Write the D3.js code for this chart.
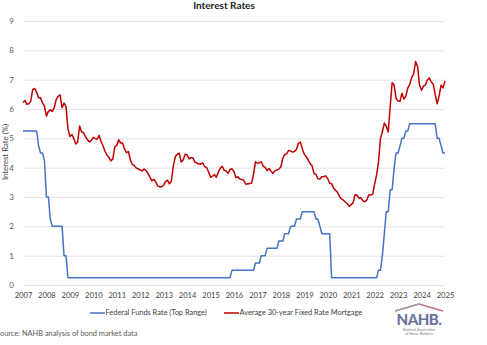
<!DOCTYPE html>
<html>
<head>
<meta charset="utf-8">
<script src="https://cdn.jsdelivr.net/npm/d3@7"></script>
<style>
  body { margin: 0; background: #fff; }
  svg { display: block; font-family: Lato, "Open Sans", sans-serif; }
</style>
</head>
<body>
<div id="chart"></div>
<script>
// monthly series, Jan 2007 - Jan 2025
const startMonth = new Date(2007, 0, 1);

const fedFunds = [
  // 2007
  5.25, 5.25, 5.25, 5.25, 5.25, 5.25, 5.25, 5.25, 4.75, 4.5, 4.5, 4.25,
  // 2008
  3.0, 3.0, 2.25, 2.0, 2.0, 2.0, 2.0, 2.0, 2.0, 1.0, 1.0, 0.25,
  // 2009 - 2014
  0.25, 0.25, 0.25, 0.25, 0.25, 0.25, 0.25, 0.25, 0.25, 0.25, 0.25, 0.25,
  0.25, 0.25, 0.25, 0.25, 0.25, 0.25, 0.25, 0.25, 0.25, 0.25, 0.25, 0.25,
  0.25, 0.25, 0.25, 0.25, 0.25, 0.25, 0.25, 0.25, 0.25, 0.25, 0.25, 0.25,
  0.25, 0.25, 0.25, 0.25, 0.25, 0.25, 0.25, 0.25, 0.25, 0.25, 0.25, 0.25,
  0.25, 0.25, 0.25, 0.25, 0.25, 0.25, 0.25, 0.25, 0.25, 0.25, 0.25, 0.25,
  0.25, 0.25, 0.25, 0.25, 0.25, 0.25, 0.25, 0.25, 0.25, 0.25, 0.25, 0.25,
  // 2015
  0.25, 0.25, 0.25, 0.25, 0.25, 0.25, 0.25, 0.25, 0.25, 0.25, 0.25, 0.5,
  // 2016
  0.5, 0.5, 0.5, 0.5, 0.5, 0.5, 0.5, 0.5, 0.5, 0.5, 0.5, 0.75,
  // 2017
  0.75, 0.75, 1.0, 1.0, 1.0, 1.25, 1.25, 1.25, 1.25, 1.25, 1.25, 1.5,
  // 2018
  1.5, 1.5, 1.75, 1.75, 1.75, 2.0, 2.0, 2.0, 2.25, 2.25, 2.25, 2.5,
  // 2019
  2.5, 2.5, 2.5, 2.5, 2.5, 2.5, 2.25, 2.25, 2.0, 1.75, 1.75, 1.75,
  // 2020
  1.75, 1.75, 0.25, 0.25, 0.25, 0.25, 0.25, 0.25, 0.25, 0.25, 0.25, 0.25,
  // 2021
  0.25, 0.25, 0.25, 0.25, 0.25, 0.25, 0.25, 0.25, 0.25, 0.25, 0.25, 0.25,
  // 2022
  0.25, 0.25, 0.5, 0.5, 1.0, 1.75, 2.5, 2.5, 3.25, 3.25, 4.0, 4.5,
  // 2023
  4.5, 4.75, 5.0, 5.0, 5.25, 5.25, 5.5, 5.5, 5.5, 5.5, 5.5, 5.5,
  // 2024
  5.5, 5.5, 5.5, 5.5, 5.5, 5.5, 5.5, 5.5, 5.0, 5.0, 4.75, 4.5,
  // 2025
  4.5
];

const mortgage30 = [
  // 2007
  6.22, 6.29, 6.16, 6.18, 6.26, 6.66, 6.70, 6.57, 6.38, 6.38, 6.21, 6.10,
  // 2008
  5.76, 5.92, 5.97, 5.92, 6.04, 6.32, 6.43, 6.48, 6.04, 6.20, 6.09, 5.33,
  // 2009
  5.06, 5.13, 5.00, 4.81, 4.86, 5.42, 5.22, 5.19, 5.06, 4.95, 4.88, 4.93,
  // 2010
  5.03, 4.99, 4.97, 5.10, 4.89, 4.74, 4.56, 4.43, 4.35, 4.23, 4.30, 4.71,
  // 2011
  4.76, 4.95, 4.84, 4.84, 4.64, 4.51, 4.55, 4.27, 4.11, 4.07, 3.99, 3.96,
  // 2012
  3.92, 3.89, 3.95, 3.91, 3.80, 3.68, 3.55, 3.60, 3.50, 3.38, 3.35, 3.35,
  // 2013
  3.41, 3.53, 3.57, 3.45, 3.54, 4.07, 4.37, 4.46, 4.49, 4.19, 4.26, 4.46,
  // 2014
  4.43, 4.30, 4.34, 4.34, 4.19, 4.16, 4.13, 4.12, 4.16, 4.04, 4.00, 3.86,
  // 2015
  3.67, 3.71, 3.77, 3.67, 3.84, 3.98, 4.05, 3.91, 3.89, 3.80, 3.94, 3.96,
  // 2016
  3.87, 3.66, 3.69, 3.61, 3.60, 3.57, 3.44, 3.44, 3.46, 3.47, 3.77, 4.20,
  // 2017
  4.15, 4.17, 4.20, 4.05, 4.01, 3.90, 3.97, 3.88, 3.81, 3.90, 3.92, 3.95,
  // 2018
  4.03, 4.33, 4.44, 4.47, 4.59, 4.57, 4.53, 4.55, 4.63, 4.83, 4.87, 4.64,
  // 2019
  4.46, 4.37, 4.27, 4.14, 4.07, 3.80, 3.77, 3.62, 3.61, 3.69, 3.70, 3.72,
  // 2020
  3.62, 3.47, 3.45, 3.31, 3.23, 3.16, 3.02, 2.94, 2.89, 2.83, 2.77, 2.68,
  // 2021
  2.74, 2.81, 3.08, 3.06, 2.96, 2.98, 2.87, 2.84, 2.90, 3.07, 3.07, 3.10,
  // 2022
  3.45, 3.76, 4.17, 4.98, 5.23, 5.52, 5.41, 5.22, 6.11, 6.90, 6.81, 6.36,
  // 2023
  6.27, 6.26, 6.54, 6.34, 6.43, 6.71, 6.84, 7.07, 7.20, 7.62, 7.44, 6.82,
  // 2024
  6.64, 6.78, 6.82, 6.99, 7.06, 6.92, 6.85, 6.50, 6.18, 6.43, 6.81, 6.72,
  // 2025
  6.96
];

const yearTicks = d3.range(2007, 2026);
const rateTicks = d3.range(0, 10);
const seriesNames = ["Federal Funds Rate (Top Range)", "Average 30-year Fixed Rate Mortgage"];
const seriesColors = ["#4472c4", "#c00000"];

const months = fedFunds.map((_, i) => d3.timeMonth.offset(startMonth, i));

const W = 487, H = 345;
const margin = { top: 21, right: 42, bottom: 60, left: 23 };

const svg = d3.select("#chart").append("svg")
  .attr("width", W)
  .attr("height", H);

const x = d3.scaleTime()
  .domain([new Date(yearTicks[0], 0, 1), new Date(yearTicks[yearTicks.length - 1], 0, 1)])
  .range([margin.left, W - margin.right]);

const y = d3.scaleLinear()
  .domain([0, 9])
  .range([H - margin.bottom, margin.top]);

// title
svg.append("text")
  .attr("x", 224)
  .attr("y", 9)
  .attr("text-anchor", "middle")
  .attr("font-size", 10)
  .attr("font-weight", "bold")
  .attr("fill", "#222")
  .text("Interest Rates");

// horizontal gridlines + left labels
const yAxis = svg.append("g")
  .attr("transform", `translate(${margin.left},0)`)
  .call(d3.axisLeft(y)
    .tickValues(rateTicks)
    .tickSize(-(W - margin.left - margin.right))
    .tickPadding(9)
    .tickFormat(d3.format("d")));
yAxis.select(".domain").remove();
yAxis.selectAll(".tick line").attr("stroke", "#e3e3e3").attr("stroke-width", 1);
yAxis.selectAll(".tick text")
  .attr("font-size", 8)
  .attr("fill", "#595959")
  .attr("font-family", "Lato, sans-serif");

// year labels
const xAxis = svg.append("g")
  .attr("transform", `translate(0,${H - margin.bottom})`)
  .call(d3.axisBottom(x)
    .tickValues(yearTicks.map(yr => new Date(yr, 0, 1)))
    .tickSize(0)
    .tickPadding(8)
    .tickFormat(d3.timeFormat("%Y")));
xAxis.select(".domain").remove();
xAxis.selectAll(".tick text")
  .attr("font-size", 7.6)
  .attr("fill", "#404040")
  .attr("font-family", "Lato, sans-serif");

// y axis title
svg.append("text")
  .attr("transform", "translate(6,152) rotate(-90)")
  .attr("text-anchor", "middle")
  .attr("dominant-baseline", "middle")
  .attr("font-size", 7.8)
  .attr("fill", "#404040")
  .text("Interest Rate (%)");

// series lines
const line = d3.line()
  .x((d, i) => x(months[i]))
  .y(d => y(d));

[fedFunds, mortgage30].forEach((vals, k) => {
  svg.append("path")
    .datum(vals)
    .attr("fill", "none")
    .attr("stroke", seriesColors[k])
    .attr("stroke-width", 1.5)
    .attr("stroke-linejoin", "round")
    .attr("d", line);
});

// legend
const legendPos = [90, 224];
seriesNames.forEach((name, k) => {
  const g = svg.append("g").attr("transform", `translate(${legendPos[k]},313)`);
  g.append("line")
    .attr("x1", 0).attr("x2", 15)
    .attr("stroke", seriesColors[k])
    .attr("stroke-width", 1.5);
  g.append("text")
    .attr("x", 15.5)
    .attr("dominant-baseline", "middle")
    .attr("font-size", 7.4)
    .attr("fill", "#404040")
    .text(name);
});

// source note
svg.append("text")
  .attr("x", -4)
  .attr("y", 336)
  .attr("font-size", 7.4)
  .attr("fill", "#595959")
  .text("Source: NAHB analysis of bond market data");

// NAHB logo
const logo = svg.append("g").attr("transform", "translate(395,303)");
logo.append("path")
  .attr("d", "M0,8 L24,1 L48,8")
  .attr("fill", "none")
  .attr("stroke", "#c9707c")
  .attr("stroke-width", 1.6);
logo.append("path")
  .attr("d", "M0,8 L24,1")
  .attr("fill", "none")
  .attr("stroke", "#a6a6b4")
  .attr("stroke-width", 1.6);
logo.append("text")
  .attr("x", 24)
  .attr("y", 22)
  .attr("text-anchor", "middle")
  .attr("font-size", 15)
  .attr("font-weight", 900)
  .attr("letter-spacing", -0.5)
  .attr("fill", "#6b7399")
  .text("NAHB.");
logo.append("text")
  .attr("x", 24).attr("y", 27.5)
  .attr("text-anchor", "middle")
  .attr("font-size", 3.6)
  .attr("fill", "#7a7a7a")
  .text("National Association");
logo.append("text")
  .attr("x", 24).attr("y", 32)
  .attr("text-anchor", "middle")
  .attr("font-size", 3.6)
  .attr("fill", "#7a7a7a")
  .text("of Home Builders");
</script>
</body>
</html>
